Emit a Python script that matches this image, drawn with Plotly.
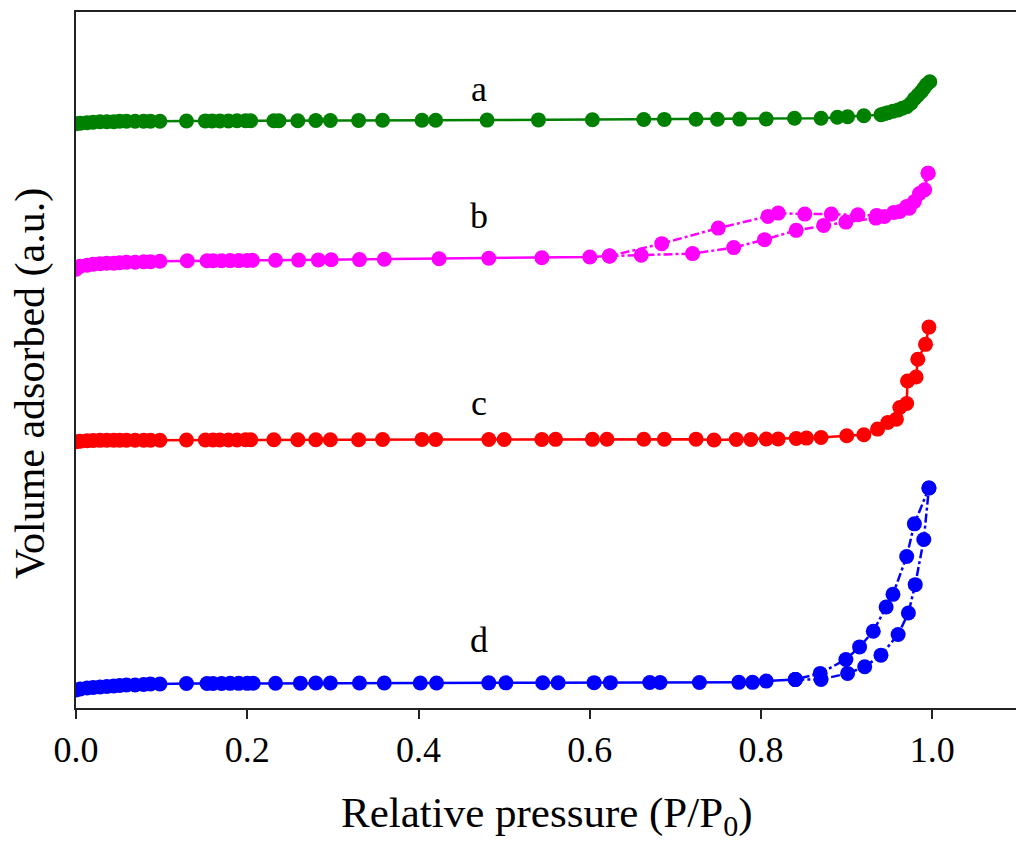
import plotly.graph_objects as go

# ---------------- data (volume in arbitrary units) ----------------
a_x = [0.0, 0.005, 0.013, 0.02, 0.028, 0.036, 0.044, 0.051, 0.059, 0.069, 0.079, 0.087, 0.098,
       0.129, 0.151, 0.159, 0.168, 0.178, 0.188, 0.198, 0.204, 0.231, 0.237, 0.259, 0.280, 0.297,
       0.330, 0.358, 0.404, 0.420, 0.480, 0.540, 0.603, 0.663, 0.687, 0.724, 0.749, 0.775, 0.806,
       0.839, 0.870, 0.889, 0.901, 0.920, 0.940, 0.944, 0.948, 0.954, 0.960, 0.965, 0.970, 0.975,
       0.979, 0.983, 0.987, 0.990, 0.993, 0.997]
a_y = [586, 586.5, 587, 587.5, 588, 588, 588, 588.5, 588.5, 588.5, 588.5, 588.5, 588.5,
       588.7, 588.8, 588.8, 588.8, 588.8, 588.9, 589, 589, 589, 589, 589, 589.2, 589.2,
       589.3, 589.4, 589.5, 589.5, 589.6, 589.8, 590, 590.2, 590.3, 590.4, 590.5, 590.6, 590.7,
       591.5, 591.5, 592.5, 593, 594, 595, 596, 597, 598.5, 599.7, 601.5, 603, 606.5,
       611, 614.5, 618, 621.5, 625, 628]

b_ads_x = [0.0, 0.005, 0.013, 0.02, 0.028, 0.036, 0.044, 0.051, 0.059, 0.069, 0.079, 0.087, 0.098,
           0.130, 0.153, 0.160, 0.170, 0.180, 0.190, 0.200, 0.206, 0.233, 0.260, 0.283, 0.298,
           0.331, 0.360, 0.424, 0.482, 0.544, 0.600, 0.623, 0.660, 0.720, 0.768, 0.804, 0.841,
           0.873, 0.899, 0.934, 0.944, 0.962, 0.973, 0.979, 0.991, 0.995]
b_ads_y = [440, 443, 444, 445, 445.5, 446, 446, 446.5, 447, 447, 447.5, 447.5, 448,
           448.5, 448.5, 448.5, 448.5, 448.7, 448.7, 448.8, 449, 449, 449.2, 449.4, 449.5,
           449.7, 450, 450.5, 451, 451.5, 452.3, 453.3, 454, 455.7, 461.7, 469.7, 479,
           484, 487.3, 491.3, 493, 498, 501.3, 508, 519.7, 536.3]
b_des_x = [0.995, 0.985, 0.970, 0.955, 0.935, 0.913, 0.882, 0.851, 0.820, 0.808, 0.750, 0.684, 0.623]
b_des_y = [536.3, 516, 503, 497, 494, 494.7, 495.3, 495.3, 496.3, 493, 481.3, 465.7, 453.3]

c_x = [0.0, 0.005, 0.013, 0.02, 0.028, 0.036, 0.044, 0.051, 0.059, 0.069, 0.079, 0.087, 0.098,
       0.129, 0.151, 0.160, 0.168, 0.178, 0.188, 0.198, 0.204, 0.231, 0.259, 0.280, 0.297,
       0.330, 0.358, 0.404, 0.420, 0.482, 0.500, 0.544, 0.560, 0.603, 0.620, 0.663, 0.687,
       0.724, 0.745, 0.771, 0.788, 0.806, 0.820, 0.841, 0.853, 0.870, 0.900, 0.920, 0.936,
       0.948, 0.958, 0.962, 0.970, 0.971, 0.981, 0.983, 0.992, 0.996]
c_y = [267, 267.5, 268, 268.2, 268.4, 268.5, 268.5, 268.5, 268.5, 268.5, 268.5, 268.5, 268.5,
       268.8, 268.8, 268.8, 268.8, 268.8, 268.8, 269, 269, 269, 269, 269, 269,
       269, 269.2, 269.2, 269.2, 269.3, 269.3, 269.3, 269.4, 269.4, 269.5, 269.5, 269.5,
       269.6, 268.7, 269.3, 269.3, 269.7, 269.7, 270.3, 270.7, 271.3, 273, 274, 279.7,
       286.3, 289.7, 301.3, 305.3, 328, 332, 349.7, 364.7, 382]

d_ads_x = [0.0, 0.005, 0.013, 0.02, 0.028, 0.036, 0.044, 0.051, 0.059, 0.069, 0.079, 0.087, 0.098,
           0.129, 0.153, 0.160, 0.170, 0.180, 0.190, 0.200, 0.207, 0.233, 0.262, 0.280, 0.297,
           0.331, 0.360, 0.402, 0.421, 0.482, 0.502, 0.545, 0.563, 0.605, 0.624, 0.670, 0.682,
           0.728, 0.774, 0.790, 0.806, 0.840, 0.870, 0.901, 0.921, 0.940, 0.960, 0.972, 0.980,
           0.990, 0.996]
d_ads_y = [18, 19, 20, 20.5, 21, 21.5, 22, 22.5, 23, 23, 23.5, 24, 24,
           24.5, 24.5, 24.6, 24.6, 24.7, 24.7, 24.7, 24.8, 24.8, 24.9, 25, 25,
           25, 25, 25, 25, 25.2, 25.2, 25.3, 25.3, 25.4, 25.4, 25.5, 25.5,
           25.5, 25.7, 25.7, 27, 28.7, 28.7, 34.7, 41.3, 53, 73.7, 95.3, 123.7,
           169, 220.7]
d_des_x = [0.996, 0.979, 0.970, 0.954, 0.946, 0.931, 0.915, 0.899, 0.869, 0.840]
d_des_y = [220.7, 184.7, 152, 114, 101.3, 77, 61.3, 48.7, 34.7, 28.7]

curve_labels = ["a", "b", "c", "d"]
label_x = [0.471, 0.471, 0.471, 0.471]
label_y = [621, 493, 306, 68]

x_ticks = [0.0, 0.2, 0.4, 0.6, 0.8, 1.0]
x_tick_text = ["0.0", "0.2", "0.4", "0.6", "0.8", "1.0"]

# ---------------- figure ----------------
FONT = "Liberation Serif, Times New Roman, serif"
GREEN, MAGENTA, RED, BLUE = "#008000", "#ff00ff", "#ff0000", "#0000ff"
MS = 15

fig = go.Figure()


def add(x, y, color, dash="solid"):
    fig.add_trace(go.Scatter(
        x=x, y=y, mode="lines+markers",
        line=dict(color=color, width=2.5, dash=dash),
        marker=dict(color=color, size=MS, symbol="circle"),
        showlegend=False, hoverinfo="skip"))


def split_at(xs, ys, x0):
    k = max(i for i, v in enumerate(xs) if v <= x0)
    return (xs[:k + 1], ys[:k + 1]), (xs[k:], ys[k:])


add(a_x, a_y, GREEN)

(b1x, b1y), (b2x, b2y) = split_at(b_ads_x, b_ads_y, 0.623)
add(b1x, b1y, MAGENTA)
add(b2x, b2y, MAGENTA, dash="dashdot")
add(b_des_x, b_des_y, MAGENTA, dash="dashdot")

add(c_x, c_y, RED)

(d1x, d1y), (d2x, d2y) = split_at(d_ads_x, d_ads_y, 0.840)
add(d1x, d1y, BLUE)
add(d2x, d2y, BLUE, dash="dashdot")
add(d_des_x, d_des_y, BLUE, dash="dashdot")

annotations = []
for t, lx, ly in zip(curve_labels, label_x, label_y):
    annotations.append(dict(x=lx, y=ly, xref="x", yref="y", text=t, showarrow=False,
                            font=dict(family=FONT, size=36, color="black")))

annotations.append(dict(x=0.5, y=0, xref="paper", yref="paper", yshift=-108,
                        text="Relative pressure (P/P<sub>0</sub>)", showarrow=False,
                        xanchor="center", yanchor="middle",
                        font=dict(family=FONT, size=43, color="black")))
annotations.append(dict(x=0, y=0.4656, xref="paper", yref="paper", xshift=-45,
                        text="Volume adsorbed (a.u.)", showarrow=False, textangle=-90,
                        xanchor="center", yanchor="middle",
                        font=dict(family=FONT, size=42, color="black")))

# page body has an 8px default margin: the figure is sized and offset to compensate
fig.update_layout(
    width=1016, height=851,
    margin=dict(l=68, r=6, t=2, b=151),
    paper_bgcolor="white", plot_bgcolor="white",
    annotations=annotations,
    xaxis=dict(range=[0, 1.1], tickvals=x_ticks, ticktext=x_tick_text,
               showgrid=False, zeroline=False,
               showline=True, mirror=True, linecolor="#222", linewidth=2,
               ticks="outside", ticklen=9, tickwidth=2, tickcolor="#222",
               tickfont=dict(family=FONT, size=36, color="black")),
    yaxis=dict(range=[0, 698], showgrid=False, zeroline=False,
               showline=True, mirror=True, linecolor="#222", linewidth=2,
               showticklabels=False, ticks=""),
)

fig.write_html("out.html")
